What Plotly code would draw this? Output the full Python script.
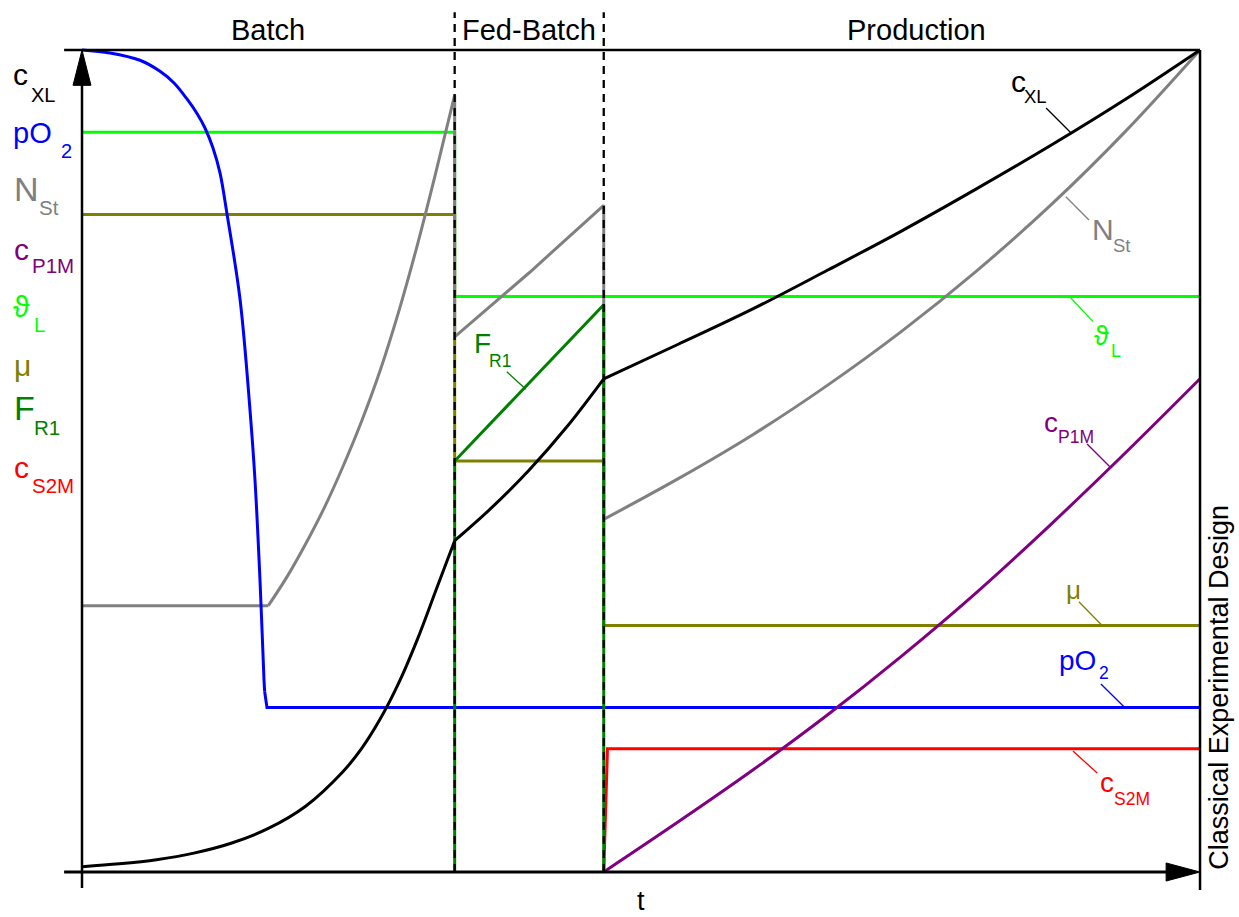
import plotly.graph_objects as go

# ---------------- process phases (time in h, signals normalised to 0..100) ----------------
T_BATCH_END = 10.0
T_FED_END = 14.0
T_END = 30.0
V_MAX = 100.0

phase_names = ["Batch", "Fed-Batch", "Production"]
phase_centers = [5.0, 12.0, 22.4]

# biomass concentration c_XL
t_cxl_batch = [0, 1, 2, 3, 4, 5, 6, 7, 7.5, 8, 8.5, 9, 9.5, 10]
cxl_batch = [0.65, 1.0, 1.5, 2.3, 3.5, 5.3, 8.0, 12.2, 15.0, 18.6, 23.0, 28.3, 34.3, 40.3]
t_cxl_fed = [10, 11, 12, 13, 14]
cxl_fed = [40.3, 44.35, 48.9, 54.1, 60.0]
t_cxl_prod = [14, 16, 18, 20, 22, 24, 26, 28, 30]
cxl_prod = [60.0, 64.2, 68.5, 73.2, 78.0, 83.1, 88.4, 94.0, 100.0]

# dissolved oxygen pO2
t_po2_drop = [0, 0.751, 1.556, 2.093, 2.469, 2.817, 3.086, 3.300, 3.515, 3.703, 3.891,
              4.240, 4.508, 4.642, 4.776, 4.884, 4.902]
po2_drop = [100, 99.64, 98.75, 97.41, 95.99, 94.04, 92.27, 90.51, 88.08, 85.04, 80.05,
            69.71, 56.20, 47.69, 35.52, 23.36, 21.93]
t_po2_ctrl = [4.902, 4.964, 30]
po2_ctrl = [21.93, 20.0, 20.0]

# stirrer speed N_St
t_nst_hold = [0, 5.0]
nst_hold = [32.4, 32.4]
t_nst_batch = [5.0, 5.5, 6.0, 6.5, 7.0, 7.5, 8.0, 8.5, 9.0, 9.5, 10.0]
nst_batch = [32.4, 35.9, 39.9, 44.3, 49.3, 54.8, 61.0, 68.2, 76.3, 85.2, 94.5]
t_nst_fed = [10, 10, 12, 14, 14]
nst_fed = [94.5, 65.1, 72.9, 81.1, 42.9]
t_nst_prod = [14, 16, 18, 20, 22, 24, 26, 28, 30]
nst_prod = [42.9, 47.85, 53.2, 59.2, 65.8, 73.1, 81.15, 90.1, 100.0]

# product concentration c_P1M
t_cp1m = [14, 16, 18, 20, 22, 24, 26, 28, 30]
cp1m = [0, 6.1, 12.4, 19.1, 26.3, 34.0, 42.3, 51.0, 60.0]

# temperature, growth rate, feed rate, inducer concentration (piecewise constant)
t_theta = [0, 10, 10, 30]
theta = [90, 90, 70, 70]
t_mu = [0, 10, 10, 14, 14, 30]
mu = [80, 80, 50, 50, 30, 30]
t_fr1 = [10, 10, 14, 14]
fr1 = [0, 50, 69, 0]
t_cs2m = [14, 14.1, 30]
cs2m = [0, 15, 15]

BLACK = "#000000"
BLUE = "#0000FF"
GRAY = "#808080"
PURPLE = "#800080"
LIME = "#00FF00"
OLIVE = "#808000"
DGREEN = "#008000"
RED = "#FF0000"
FONT = "Liberation Sans, Arial, sans-serif"

fig = go.Figure()


def add_line(t, v, color, shape="linear", width=3):
    fig.add_trace(go.Scatter(x=t, y=v, mode="lines",
                             line=dict(color=color, width=width, shape=shape, simplify=False),
                             hoverinfo="skip"))


add_line(t_theta, theta, LIME)
add_line(t_mu, mu, OLIVE)
add_line(t_nst_hold, nst_hold, GRAY)
add_line(t_nst_batch, nst_batch, GRAY, "spline")
add_line(t_nst_fed, nst_fed, GRAY)
add_line(t_nst_prod, nst_prod, GRAY, "spline")
add_line(t_po2_drop, po2_drop, BLUE, "spline")
add_line(t_po2_ctrl, po2_ctrl, BLUE)
add_line(t_cs2m, cs2m, RED)
add_line(t_cp1m, cp1m, PURPLE, "spline")
add_line(t_fr1, fr1, DGREEN)
add_line(t_cxl_batch, cxl_batch, BLACK, "spline")
add_line(t_cxl_fed, cxl_fed, BLACK, "spline")
add_line(t_cxl_prod, cxl_prod, BLACK, "spline")

shapes = []
frame = dict(color=BLACK, width=2.5)
# frame: top border, time axis, signal axis, right border
shapes.append(dict(type="line", x0=-0.48, x1=T_END, y0=V_MAX, y1=V_MAX, line=frame))
shapes.append(dict(type="line", x0=-0.48, x1=T_END - 0.5, y0=0, y1=0, line=dict(color=BLACK, width=3)))
shapes.append(dict(type="line", x0=0, x1=0, y0=-1.95, y1=V_MAX - 2, line=frame))
shapes.append(dict(type="line", x0=T_END, x1=T_END, y0=-2.2, y1=V_MAX, line=frame))
# arrow heads
shapes.append(dict(type="path", path=f"M 0,{V_MAX} L -0.24,{V_MAX - 4.3} L 0.24,{V_MAX - 4.3} Z",
                   fillcolor=BLACK, line=dict(color=BLACK, width=1)))
shapes.append(dict(type="path", path=f"M {T_END},0 L {T_END - 0.91},1.1 L {T_END - 0.91},-1.1 Z",
                   fillcolor=BLACK, line=dict(color=BLACK, width=1)))
# phase boundaries
for tb in (T_BATCH_END, T_FED_END):
    shapes.append(dict(type="line", x0=tb, x1=tb, y0=0, y1=104.6,
                       line=dict(color=BLACK, width=2.3, dash="8px,6px")))

for s in shapes:
    s.update(xref="x", yref="y", layer="above")

# leader lines from labels to curves
leaders = [
    (25.87, 92.94, 26.54, 89.9, BLACK),
    (26.40, 82.15, 27.02, 79.32, GRAY),
    (26.51, 69.95, 27.13, 66.95, LIME),
    (26.97, 52.07, 27.58, 49.3, PURPLE),
    (26.75, 32.88, 27.36, 30.05, OLIVE),
    (27.34, 22.87, 27.96, 20.1, BLUE),
    (26.59, 14.72, 27.24, 12.04, RED),
    (11.40, 60.86, 11.91, 58.72, DGREEN),
]
for x0, y0, x1, y1, c in leaders:
    shapes.append(dict(type="line", xref="x", yref="y", x0=x0, y0=y0, x1=x1, y1=y1,
                       line=dict(color=c, width=1.3)))

fig.update_layout(shapes=shapes)

annotations = []


def label(x, y, text, color, size, xanchor="left", yanchor="middle", angle=0, yshift=0):
    annotations.append(dict(x=x, y=y, xref="x", yref="y", text=text, showarrow=False,
                            xanchor=xanchor, yanchor=yanchor, textangle=angle, yshift=yshift,
                            borderpad=0,
                            font=dict(family=FONT, size=size, color=color)))


def on_baseline(x, base, text, color, size):
    # place text so that its baseline sits on the given signal level
    label(x, base, text, color, size, yshift=0.3465 * size)


for name, tc in zip(phase_names, phase_centers):
    label(tc, 102.4, name, BLACK, 29, xanchor="center")

label(15.0, -3.5, "t", BLACK, 27, xanchor="center")
label(30.5, 22.5, "Classical Experimental Design", BLACK, 27, xanchor="center", angle=-90)

# signal names along the vertical axis: (symbol, subscript, colour, sizes, positions)
left_labels = [
    ("c", "XL", BLACK, 30, 20, -1.878, 95.74, -1.395, 93.67),
    ("pO", "2", BLUE, 29, 20, -1.878, 88.72, -0.590, 86.86),
    ("N", "St", GRAY, 34, 20.5, -1.852, 81.63, -1.181, 79.93),
    ("c", "P1M", PURPLE, 30, 20.5, -1.852, 74.45, -1.369, 72.87),
    ("ϑ", "L", LIME, 30, 20.5, -1.878, 67.52, -1.315, 65.69),
    ("μ", "", OLIVE, 30, 20, -1.852, 60.39, 0, 0),
    ("F", "R1", DGREEN, 34, 20.5, -1.852, 54.99, -1.315, 53.16),
    ("c", "S2M", RED, 30, 20.5, -1.852, 47.93, -1.369, 46.11),
]
# names next to the curves
curve_labels = [
    ("c", "XL", BLACK, 30, 18.5, 24.90, 94.89, 25.25, 93.55),
    ("N", "St", GRAY, 30, 18.5, 27.07, 76.89, 27.64, 75.43),
    ("ϑ", "L", LIME, 27, 18, 27.13, 64.11, 27.58, 62.65),
    ("c", "P1M", PURPLE, 28, 17.5, 25.79, 53.53, 26.16, 52.19),
    ("μ", "", OLIVE, 26, 17, 26.38, 33.21, 0, 0),
    ("pO", "2", BLUE, 28, 17.5, 26.19, 24.57, 27.26, 23.48),
    ("c", "S2M", RED, 28, 17.5, 27.29, 9.73, 27.67, 8.15),
    ("F", "R1", DGREEN, 28, 17.5, 10.49, 63.14, 10.89, 61.44),
]
for main, sub, c, s_main, s_sub, xm, ym, xs, ys in left_labels + curve_labels:
    on_baseline(xm, ym, main, c, s_main)
    if sub:
        on_baseline(xs, ys, sub, c, s_sub)

fig.update_layout(
    annotations=annotations,
    width=1239, height=917,
    margin=dict(l=0, r=0, t=0, b=0),
    paper_bgcolor="white", plot_bgcolor="white",
    showlegend=False,
    xaxis=dict(visible=False, range=[-2.2003, 31.046], fixedrange=True),
    yaxis=dict(visible=False, range=[-5.474, 106.08], fixedrange=True),
)

fig.write_html("out.html")
